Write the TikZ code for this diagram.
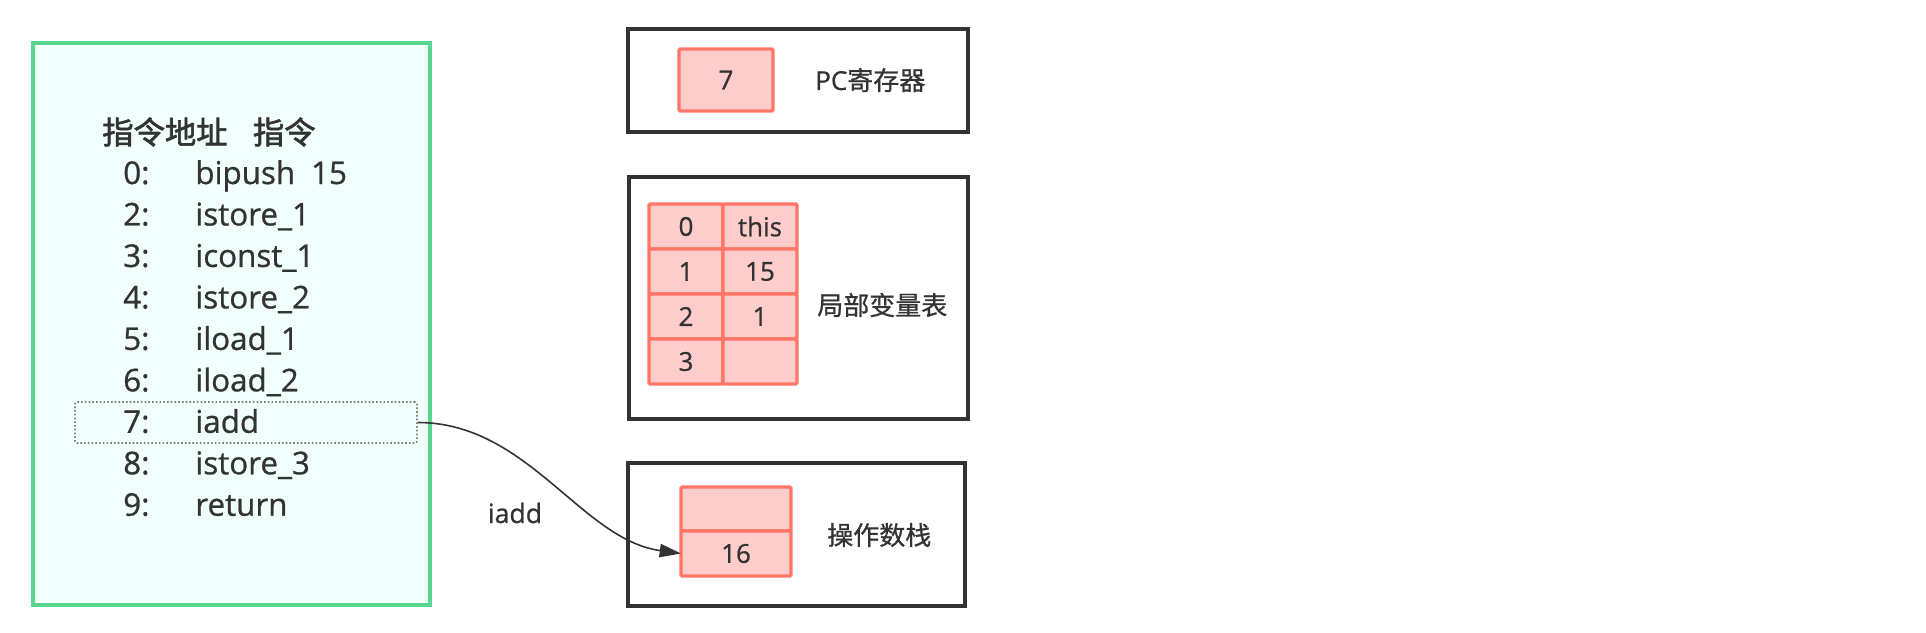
\documentclass[tikz,border=0pt]{standalone}
\usepackage{fontspec}
\setmainfont{Open Sans}[FakeBold=0.8]
\newfontfamily\cjk{Noto Sans CJK SC}[FakeBold=0.8]
\newfontfamily\cjkhead{Noto Sans CJK SC}[FakeBold=2]
\usetikzlibrary{positioning, arrows.meta}
\definecolor{codegreen}{RGB}{88,214,141}
\definecolor{codebg}{RGB}{240,255,251}
\definecolor{cellred}{RGB}{255,117,102}
\definecolor{cellfill}{RGB}{255,204,204}
\definecolor{inkgray}{RGB}{51,51,51}

\begin{document}
\begin{tikzpicture}[
  x=0.75pt, y=-0.75pt,
  every node/.style={text=inkgray},
  codebox/.style={rectangle, draw=codegreen, line width=2.6pt, fill=codebg, minimum width=297.75pt, minimum height=421.5pt},
  frame/.style={rectangle, draw=inkgray, line width=3pt},
  cell/.style={rectangle, draw=cellred, line width=2.6pt, fill=cellfill, rounded corners=1pt, outer sep=0pt, minimum width=55.5pt, minimum height=33.75pt, font=\fontsize{19.5}{22}\selectfont},
  addr/.style={anchor=west, inner sep=0pt, text height=16.5pt, text depth=0pt, font=\fontsize{23.5}{28}\selectfont},
  instr/.style={inner sep=0pt, font=\fontsize{23.5}{28}\selectfont},
  regname/.style={anchor=west, inner sep=0pt, font=\fontsize{19.5}{24}\selectfont},
  hilite/.style={rectangle, draw=gray, dash pattern=on 1.2pt off 1.6pt, line width=1.2pt, rounded corners=1.5pt, minimum width=256.5pt, minimum height=30.75pt},
  >={Triangle[length=16pt, width=10pt]}
]
\useasboundingbox (0,0) rectangle (1926,632);

% instruction listing
\node[codebox] (code) at (231.5,324) {};
\node[anchor=west, inner sep=0pt, font=\cjkhead\fontsize{23.5}{28}\selectfont] (head) at (102,132) {指令地址\hspace{19pt}指令};

\node[addr] (a0) at (123,173) {0:};
\node[addr, below=14.2pt of a0] (a2) {2:};
\node[addr, below=14.2pt of a2] (a3) {3:};
\node[addr, below=14.2pt of a3] (a4) {4:};
\node[addr, below=14.2pt of a4] (a5) {5:};
\node[addr, below=14.2pt of a5] (a6) {6:};
\node[addr, below=14.2pt of a6] (a7) {7:};
\node[addr, below=14.2pt of a7] (a8) {8:};
\node[addr, below=14.2pt of a8] (a9) {9:};

\node[instr, base right=34pt of a0] (i0) {bipush\hspace{12pt}15};
\node[instr, base right=34pt of a2] (i2) {istore\_1};
\node[instr, base right=34pt of a3] (i3) {iconst\_1};
\node[instr, base right=34pt of a4] (i4) {istore\_2};
\node[instr, base right=34pt of a5] (i5) {iload\_1};
\node[instr, base right=34pt of a6] (i6) {iload\_2};
\node[instr, base right=34pt of a7] (i7) {iadd};
\node[instr, base right=34pt of a8] (i8) {istore\_3};
\node[instr, base right=34pt of a9] (i9) {return};

\node[hilite] (hl) at (246,422.5) {};

% pc register
\node[frame, minimum width=255pt, minimum height=77.25pt] (pcframe) at (798,80.5) {};
\node[cell, minimum width=70.5pt, minimum height=46.5pt] (pc) at (726,80) {7};
\node[regname, right=31.5pt of pc] (pclabel) {PC{\cjk 寄存器}};

% local variables
\node[frame, minimum width=254.25pt, minimum height=181.5pt] (lvframe) at (798.5,298) {};
\node[cell] (lv0) at (686,226.5) {0};
\node[cell, right=0pt of lv0] (lv0v) {this};
\node[cell, below=0pt of lv0] (lv1) {1};
\node[cell, right=0pt of lv1] (lv1v) {15};
\node[cell, below=0pt of lv1] (lv2) {2};
\node[cell, right=0pt of lv2] (lv2v) {1};
\node[cell, below=0pt of lv2] (lv3) {3};
\node[cell, right=0pt of lv3] (lv3v) {};
\node[regname] (lvlabel) at (817,305) {\cjk 局部变量表};

% operand stack
\node[frame, minimum width=252.75pt, minimum height=107.25pt] (stframe) at (796.5,534.5) {};
\node[cell, minimum width=82.5pt, minimum height=33pt] (st1) at (736,509) {};
\node[cell, minimum width=82.5pt, minimum height=33.75pt, below=0pt of st1] (st0) {16};
\node[regname] (stlabel) at (827,535) {\cjk 操作数栈};

\node[inner sep=0pt, font=\fontsize{20}{24}\selectfont] (oplabel) at (515,513) {iadd};
\draw[->, inkgray, line width=1.2pt] (hl.east) .. controls +(110,0) and +(-100,-14) .. (st0.west);

\end{tikzpicture}
\end{document}
